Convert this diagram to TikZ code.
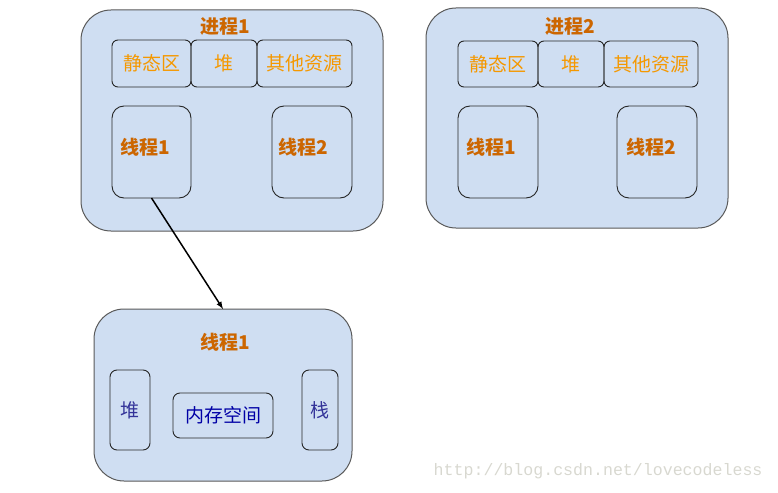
\documentclass[tikz,border=0pt]{standalone}
\usepackage{fontspec}
\newfontfamily\cjk{Noto Sans CJK SC}
\newfontfamily\urlfont{Liberation Mono}
\definecolor{boxfill}{RGB}{207,222,242}
\definecolor{titlecol}{RGB}{204,102,0}
\definecolor{rescol}{RGB}{245,152,0}
\definecolor{memcol}{RGB}{51,51,153}
\definecolor{urlcol}{RGB}{216,216,208}
\begin{document}
\begin{tikzpicture}[x=1pt,y=-1pt,
    outerbox/.style={draw=black!65,line width=1pt,fill=boxfill,rounded corners=30pt,inner sep=0,outer sep=0},
    resbox/.style={draw=black!85,line width=0.9pt,rounded corners=6pt,inner sep=0,outer sep=0,font=\cjk\fontsize{19}{19}\selectfont,text=rescol},
    threadbox/.style={draw=black!85,line width=0.9pt,rounded corners=12pt,inner sep=0,outer sep=0},
    title/.style={font=\cjk\bfseries\fontsize{19}{19}\selectfont,text=titlecol},
    membox/.style={draw=black!85,line width=0.9pt,rounded corners=7pt,inner sep=0,outer sep=0,font=\cjk\fontsize{19}{19}\selectfont,text=memcol}]
  \useasboundingbox (0,0) rectangle (778,492);
  % process 1
  \node[outerbox,minimum width=302pt,minimum height=221pt] (p1) at (232,120.5) {};
  \node[title] (p1name) at (225,26) {进程1};
  \node[resbox,minimum width=79pt,minimum height=47pt] (p1s) at (151.5,63.5) {静态区};
  \node[resbox,minimum width=66pt,minimum height=47pt] (p1h) at (224,63.5) {堆};
  \node[resbox,minimum width=95pt,minimum height=47pt] (p1o) at (304.5,63.5) {其他资源};
  \node[threadbox,minimum width=79pt,minimum height=92pt] (p1t1) at (151.5,152) {};
  \node[title] at (145,147) {线程1};
  \node[threadbox,minimum width=80pt,minimum height=92pt] (p1t2) at (312,152) {};
  \node[title] at (303,147) {线程2};
  % process 2
  \node[outerbox,minimum width=302pt,minimum height=220pt] (p2) at (577,118) {};
  \node[title] (p2name) at (570,26) {进程2};
  \node[resbox,minimum width=80pt,minimum height=46pt] (p2s) at (498,64) {静态区};
  \node[resbox,minimum width=66pt,minimum height=46pt] (p2h) at (571,64) {堆};
  \node[resbox,minimum width=94pt,minimum height=46pt] (p2o) at (651,64) {其他资源};
  \node[threadbox,minimum width=80pt,minimum height=92pt] (p2t1) at (498,152) {};
  \node[title] at (491,147) {线程1};
  \node[threadbox,minimum width=80pt,minimum height=92pt] (p2t2) at (657,152) {};
  \node[title] at (651,147) {线程2};
  % thread detail
  \node[outerbox,minimum width=258pt,minimum height=172pt] (t) at (223,395) {};
  \node[title] (tname) at (225,342) {线程1};
  \node[membox,minimum width=40pt,minimum height=80pt] (theap) at (130,410) {堆};
  \node[membox,minimum width=100pt,minimum height=45pt,text=blue!65!black] (tmem) at (223,415.5) {内存空间};
  \node[membox,minimum width=36pt,minimum height=80pt] (tstack) at (320,410) {栈};
  \draw[-latex,line width=1.5pt] (p1t1.south) -- (t.north);
  \node[font=\urlfont\fontsize{16.6}{16.6}\selectfont,text=urlcol,anchor=east] (url) at (766,471) {http://blog.csdn.net/lovecodeless};
\end{tikzpicture}
\end{document}
